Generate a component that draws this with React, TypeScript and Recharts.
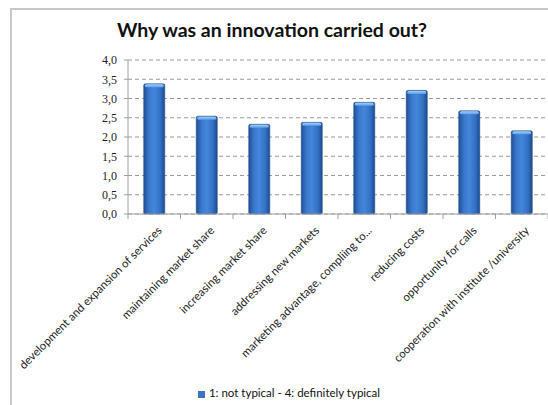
import React from "react";
import { BarChart, Bar, XAxis, YAxis, CartesianGrid, Legend } from "recharts";

const categories = [
  "development and expansion of services",
  "maintaining market share",
  "increasing market share",
  "addressing new markets",
  "marketing advantage, compliing to...",
  "reducing costs",
  "opportunity for calls",
  "cooperation with institute /university",
];
const values = [3.38, 2.54, 2.33, 2.38, 2.9, 3.21, 2.68, 2.16];
const yTicks = [0, 0.5, 1, 1.5, 2, 2.5, 3, 3.5, 4];
const seriesName = "1: not typical - 4: definitely typical";
const title = "Why was an innovation carried out?";

const data = categories.map((c, i) => ({ name: c, v: values[i] }));

const W = 548;
const H = 405;
const LEFT = 128;
const CATW = (W - LEFT) / categories.length;

const XTick = (props: any) => {
  const { x, y, payload, index } = props;
  return (
    <g>
      <line x1={x + CATW / 2} y1={y - 8} x2={x + CATW / 2} y2={y - 3} stroke="#a0a0a0" />
      {index === 0 && <line x1={x - CATW / 2} y1={y - 8} x2={x - CATW / 2} y2={y - 3} stroke="#a0a0a0" />}
      <text
        x={0}
        y={0}
        transform={`translate(${x + 4},${y + 5}) rotate(-45)`}
        textAnchor="end"
        dy={6}
        fontFamily="Lato, 'Open Sans', sans-serif"
        fontSize={11.4}
        fill="#222"
      >
        {payload.value}
      </text>
    </g>
  );
};

const BarShape = (props: any) => {
  const { x, y, width, height } = props;
  if (!height || height <= 0) return null;
  return (
    <g>
      <rect x={x} y={y} width={width} height={height} fill="url(#barGrad)" stroke="#1d4a8c" strokeWidth={0.6} rx={1.5} />
      <rect x={x + 1} y={y + 0.5} width={width - 2} height={3} fill="url(#capGrad)" rx={1.5} />
    </g>
  );
};

export default function App() {
  return (
    <div style={{ position: "absolute", left: 0, top: 0, width: W, height: H, background: "#fff", overflow: "hidden" }}>
      <div
        style={{
          position: "absolute",
          left: 10,
          top: 8,
          width: W,
          height: H,
          borderLeft: "2px solid #c8c8c8",
          borderTop: "2px solid #c8c8c8",
        }}
      />
      <div
        style={{
          position: "absolute",
          left: 0,
          top: 18,
          width: 544,
          textAlign: "center",
          fontFamily: "Lato, 'Open Sans', sans-serif",
          fontWeight: 700,
          fontSize: 19.5,
          color: "#111",
        }}
      >
        {title}
      </div>
      <div style={{ position: "absolute", left: 0, top: 0 }}>
        <BarChart width={W} height={H} data={data} margin={{ top: 60, right: 0, bottom: 6, left: 0 }} barCategoryGap="30%">
          <defs>
            <linearGradient id="barGrad" x1="0" y1="0" x2="1" y2="0">
              <stop offset="0%" stopColor="#1f4f95" />
              <stop offset="25%" stopColor="#3a78cc" />
              <stop offset="50%" stopColor="#4387da" />
              <stop offset="80%" stopColor="#336fc2" />
              <stop offset="100%" stopColor="#1d4b8e" />
            </linearGradient>
            <linearGradient id="capGrad" x1="0" y1="0" x2="0" y2="1">
              <stop offset="0%" stopColor="#9fd0ff" />
              <stop offset="100%" stopColor="#5b9be6" />
            </linearGradient>
          </defs>
          <CartesianGrid vertical={false} stroke="#9a9a9a" strokeDasharray="4 3" />
          <XAxis
            dataKey="name"
            interval={0}
            tickLine={false}
            axisLine={{ stroke: "#a0a0a0" }}
            height={172}
            tick={<XTick />}
          />
          <YAxis
            width={LEFT}
            domain={[0, 4]}
            ticks={yTicks}
            interval={0}
            tickFormatter={(v: number) => v.toFixed(1).replace(".", ",")}
            axisLine={{ stroke: "#a0a0a0" }}
            tickLine={{ stroke: "#a0a0a0" }}
            tickSize={4}
            tickMargin={7}
            tick={{ fontFamily: "'Liberation Serif', 'DejaVu Serif', serif", fontSize: 12, fill: "#222" }}
          />
          <Legend
            verticalAlign="bottom"
            align="center"
            iconType="square"
            iconSize={7}
            wrapperStyle={{ left: 40, width: 508, top: 386, fontFamily: "Lato, 'Open Sans', sans-serif", fontSize: 11.5 }}
            formatter={(v: string) => <span style={{ color: "#111" }}>{v}</span>}
          />
          <Bar dataKey="v" name={seriesName} fill="#3a75c4" shape={<BarShape />} isAnimationActive={false} />
        </BarChart>
      </div>
    </div>
  );
}
